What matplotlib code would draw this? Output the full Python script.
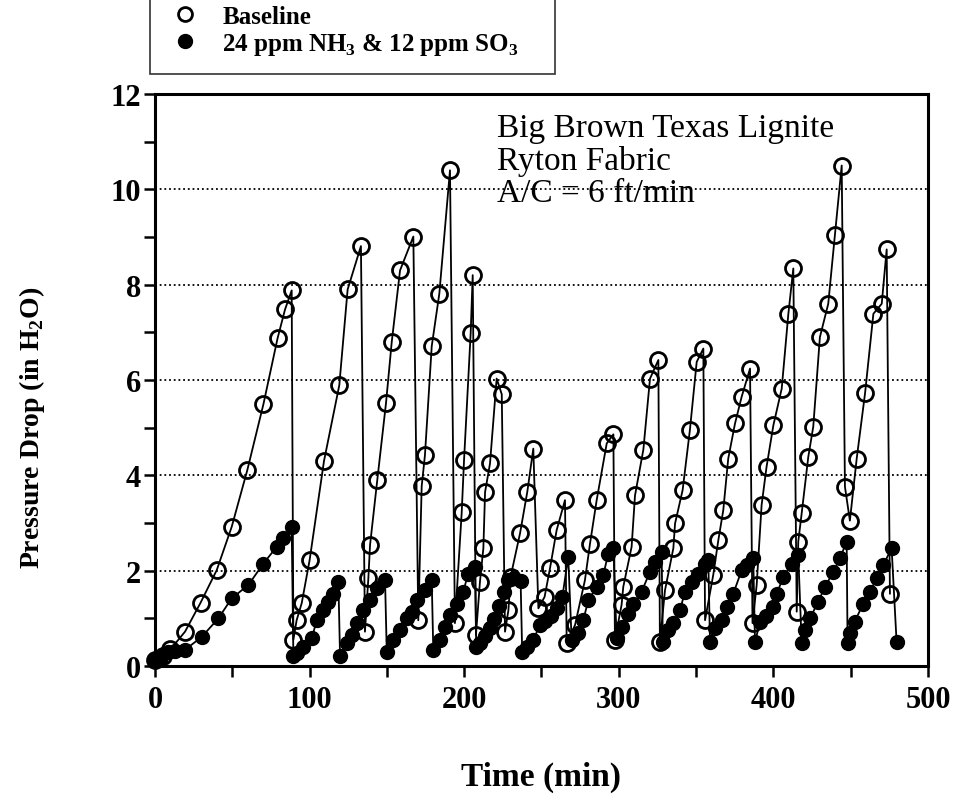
import numpy as np
import matplotlib
matplotlib.use("Agg")
import matplotlib.pyplot as plt

plt.rcParams['font.family'] = ['Liberation Serif', 'DejaVu Serif']
plt.rcParams['mathtext.fontset'] = 'custom'
plt.rcParams['mathtext.rm'] = 'Liberation Serif:bold'
plt.rcParams['mathtext.bf'] = 'Liberation Serif:bold'

# Baseline (open circles): time (min), pressure drop (in H2O)
base_t = [0, 5, 10, 19.4, 29.5, 39.9, 49.6, 59.7, 70.1, 79.3, 84.1, 88.4,
          89.5, 91.6, 94.9, 100, 109.3, 119.2, 124.6, 133.2,
          135.8, 138, 139.1, 143.8, 149.4, 153.1, 158.5, 167.1,
          170.3, 172.5, 174.6, 179, 183.9, 190.8,
          194, 198.4, 199.9, 204.2, 205.5,
          207.6, 210.2, 212.4, 213.5, 216.7, 221, 224.3,
          226.4, 228.6, 230, 236.1, 240.8, 244.7,
          248, 252, 255.5, 259.8, 265.2,
          266.3, 271.7, 278.1, 281.4, 285.7, 292.2, 296.5,
          297.5, 301.8, 302.9, 308.3, 310.5, 315.9, 320.2, 325.6,
          326.6, 329.9, 335.3, 336.4, 341.3, 346, 350.4, 354.7,
          355.8, 361.1, 364.4, 367.6, 370.8, 375.2, 379.5, 384.9,
          386.5, 389.2, 392.4, 395.6, 400, 405.4, 409.7, 412.9,
          415.1, 416.1, 418.3, 422.6, 425.8, 430.1, 435.5, 439.8, 444.2,
          446.3, 449.5, 453.9, 459.3, 464.7, 470.1, 473.3, 475.4]
base_p = [0.12, 0.2, 0.35, 0.72, 1.33, 2.01, 2.92, 4.11, 5.49, 6.88, 7.48, 7.88,
          0.55, 0.96, 1.32, 2.22, 4.30, 5.89, 7.90, 8.81,
          0.72, 1.84, 2.54, 3.91, 5.51, 6.79, 8.30, 9.01,
          0.96, 3.77, 4.42, 6.71, 7.81, 10.4,
          0.9, 3.23, 4.32, 6.99, 8.20,
          0.65, 1.77, 2.47, 3.65, 4.25, 6.03, 5.70,
          0.72, 1.17, 1.87, 2.78, 3.65, 4.56,
          1.21, 1.45, 2.05, 2.85, 3.48,
          0.48, 0.86, 1.80, 2.57, 3.48, 4.67, 4.86,
          0.55, 1.28, 1.66, 2.50, 3.58, 4.54, 6.03, 6.42,
          0.51, 1.59, 2.47, 2.99, 3.69, 4.95, 6.38, 6.66,
          0.96, 1.91, 2.64, 3.27, 4.35, 5.09, 5.65, 6.24,
          0.9, 1.70, 3.38, 4.18, 5.05, 5.82, 7.39, 8.34,
          1.14, 2.61, 3.2, 4.39, 5.02, 6.90, 7.60, 9.04, 10.5,
          3.76, 3.05, 4.35, 5.72, 7.39, 7.60, 8.74, 1.52]

# 24 ppm NH3 & 12 ppm SO3 (filled circles)
cond_t = [0, 4, 8.6, 13, 19.4, 30.2, 41, 49.6, 60.4, 70.1, 78.7, 83, 88.4,
          89.5, 91.6, 96, 101.4, 104.6, 108.9, 112.1, 115.3, 118.6,
          119.7, 124, 127.2, 130.5, 134.7, 139.1, 143.4, 148.8,
          149.9, 154.2, 158.5, 162.8, 166, 169.3, 174.6, 179,
          180, 184.3, 187.6, 190.8, 195.1, 199.4, 202.6, 207,
          207.8, 210.2, 213.5, 216.7, 219.5, 222.5, 225.5, 228.5, 232.5, 236.5,
          237.5, 240.4, 244.7, 249, 252.5, 256, 259.8, 263.5, 267.3,
          269.5, 273.8, 277, 280.3, 285.7, 290, 293.2, 296.5,
          298.6, 301.8, 306.2, 309.4, 314.8, 320.2, 323.4, 327.7,
          328.5, 332, 335.3, 339.6, 342.8, 347.2, 351.5, 355.8, 357.9,
          359, 362.2, 366.6, 369.8, 374.1, 379.5, 382.7, 387,
          388.1, 391.5, 395.5, 400, 402.2, 406.5, 411.8, 416.1,
          418.3, 420.4, 423.7, 429, 433.4, 438.8, 443.1, 447.4,
          448, 449.5, 452.6, 458.2, 462.5, 466.8, 471.1, 476.5, 479.7]
cond_p = [0.12, 0.18, 0.3, 0.32, 0.34, 0.61, 1.0, 1.42, 1.70, 2.15, 2.50, 2.68, 2.92,
          0.2, 0.27, 0.40, 0.58, 0.96, 1.17, 1.35, 1.52, 1.77,
          0.2, 0.48, 0.65, 0.9, 1.17, 1.38, 1.63, 1.80,
          0.3, 0.55, 0.75, 1.0, 1.14, 1.38, 1.59, 1.80,
          0.34, 0.55, 0.82, 1.07, 1.31, 1.56, 1.94, 2.08,
          0.40, 0.48, 0.62, 0.80, 0.98, 1.25, 1.55, 1.80, 1.85, 1.78,
          0.30, 0.40, 0.55, 0.86, 0.95, 1.05, 1.21, 1.45, 2.29,
          0.55, 0.69, 0.96, 1.38, 1.66, 1.91, 2.36, 2.47,
          0.58, 0.82, 1.10, 1.31, 1.56, 1.98, 2.19, 2.40,
          0.51, 0.75, 0.9, 1.17, 1.56, 1.77, 1.94, 2.15, 2.22,
          0.51, 0.79, 0.96, 1.24, 1.52, 2.01, 2.12, 2.26,
          0.51, 0.93, 1.05, 1.24, 1.52, 1.87, 2.15, 2.33,
          0.48, 0.75, 1.0, 1.35, 1.66, 1.98, 2.26, 2.61,
          0.48, 0.70, 0.93, 1.31, 1.56, 1.84, 2.12, 2.47, 0.51]

note_lines = ["Big Brown Texas Lignite", "Ryton Fabric", "A/C = 6 ft/min"]

fig = plt.figure(figsize=(9.54, 8.04), dpi=100)
ax = fig.add_axes([0.1625, 0.1704, 0.8102, 0.7114])

ax.plot(base_t, base_p, color='black', lw=1.3, marker='o', ms=11.5,
        mfc='none', mec='black', mew=2.0, clip_on=False, zorder=3,
        label='Baseline')
ax.plot(cond_t, cond_p, color='black', lw=1.3, marker='o', ms=10,
        mfc='black', mec='black', clip_on=False, zorder=4,
        label='24 ppm NH$_\\mathrm{3}$ & 12 ppm SO$_\\mathrm{3}$')

ax.set_xlim(0, 500)
ax.set_ylim(0, 12)
ax.set_xticks(np.arange(0, 501, 100))
ax.set_xticks(np.arange(50, 500, 100), minor=True)
ax.set_yticks(np.arange(0, 13, 2))
ax.set_yticks(np.arange(1, 12, 2), minor=True)
ax.yaxis.grid(True, which='major', linestyle=(0, (1, 1.6)), color='black', lw=1.3)
ax.tick_params(which='both', direction='out', length=8, width=1.8)
ax.tick_params(axis='y', pad=2)
ax.tick_params(axis='x', pad=6)
for lab in ax.get_xticklabels() + ax.get_yticklabels():
    lab.set_fontsize(22)
    lab.set_fontweight('bold')
for sp in ax.spines.values():
    sp.set_linewidth(2.2)

ax.set_xlabel('Time (min)', fontsize=24, fontweight='bold')
ax.set_ylabel('Pressure Drop (in H$_\\mathrm{2}$O)', fontsize=20, fontweight='bold')
ax.xaxis.set_label_coords(0.5, -0.165)
ax.yaxis.set_label_coords(-0.14, 0.418)

ax.text(0.4424, 0.968, "\n".join(note_lines), transform=ax.transAxes,
        fontsize=24, va='top', ha='left', linespacing=1.08)

leg = ax.legend(loc='lower left', bbox_to_anchor=(0.157, 0.9067, 0.425, 0.1),
                bbox_transform=fig.transFigure, mode='expand', frameon=True,
                fancybox=False, edgecolor='black', borderaxespad=0,
                handlelength=1.4, handletextpad=0.8, labelspacing=0.1,
                borderpad=0.7, prop={'family': 'Liberation Serif', 'weight': 'bold', 'size': 18})
leg.get_frame().set_linewidth(1.2)
for h in leg.legend_handles:
    h.set_linestyle('none')
    h.set_markersize(10)

fig.savefig('out.png', dpi=100)
